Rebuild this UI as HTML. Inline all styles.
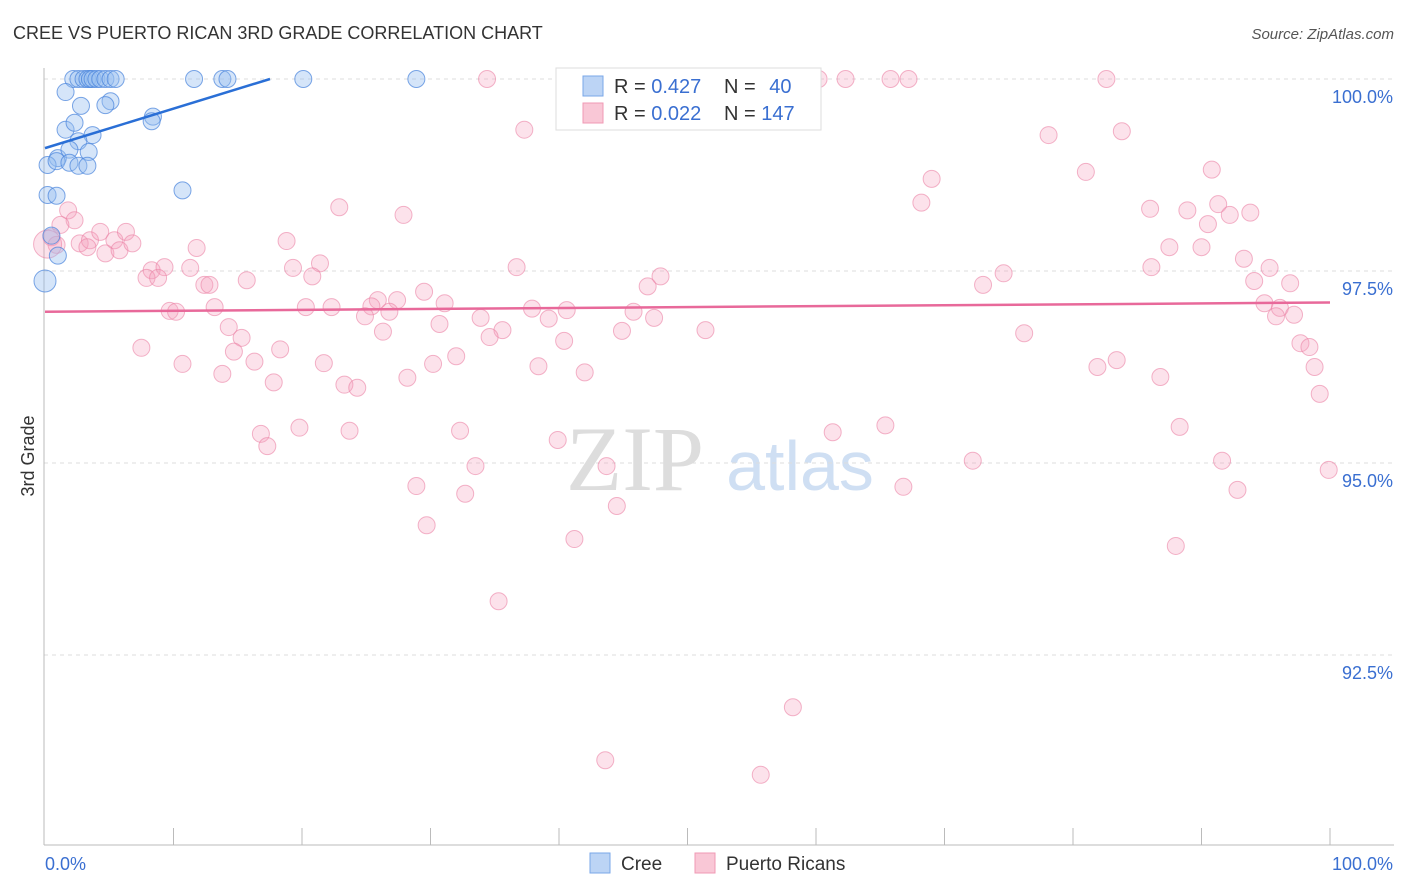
<!DOCTYPE html>
<html><head><meta charset="utf-8"><style>
body{margin:0;background:#fff;font-family:"Liberation Sans",sans-serif;}
svg{display:block}
</style></head><body>
<svg id="chart" width="1406" height="892" viewBox="0 0 1406 892">
<text x="13" y="39" font-size="18" fill="#333">CREE VS PUERTO RICAN 3RD GRADE CORRELATION CHART</text>
<text x="1394" y="39" font-size="15" fill="#555" font-style="italic" text-anchor="end">Source: ZipAtlas.com</text>
<text x="34" y="456" font-size="18" fill="#333" transform="rotate(-90 34 456)" text-anchor="middle">3rd Grade</text>
<g><text x="635" y="490" font-size="92" fill="#ddd" font-family="Liberation Serif" text-anchor="middle">ZIP</text><text x="800" y="490" font-size="70" fill="#cfdff3" text-anchor="middle">atlas</text></g>
<g id="grid"></g><g id="axes"></g><g id="pts"></g><g id="trend"></g>
<g>
<rect x="556" y="68" width="265" height="62" fill="#fff" stroke="#ddd"/>
<rect x="583" y="76" width="20" height="20" fill="#bcd4f5" stroke="#7aa7e8"/>
<rect x="583" y="103" width="20" height="20" fill="#f9c7d6" stroke="#f09ab4"/>
<text x="614" y="93" font-size="20" fill="#333">R = <tspan fill="#3a6fd1">0.427</tspan></text>
<text x="724" y="93" font-size="20" fill="#333">N = <tspan fill="#3a6fd1" dx="8">40</tspan></text>
<text x="614" y="120" font-size="20" fill="#333">R = <tspan fill="#3a6fd1">0.022</tspan></text>
<text x="724" y="120" font-size="20" fill="#333">N = <tspan fill="#3a6fd1">147</tspan></text>
</g>
<g>
<rect x="590" y="853" width="20" height="20" fill="#bcd4f5" stroke="#7aa7e8"/>
<text x="621" y="870" font-size="19" fill="#333">Cree</text>
<rect x="695" y="853" width="20" height="20" fill="#f9c7d6" stroke="#f09ab4"/>
<text x="726" y="870" font-size="19" fill="#333">Puerto Ricans</text>
</g>
</svg>
<script>
const yTicks=[100,97.5,95,92.5];
const yTickLabels=["100.0%","97.5%","95.0%","92.5%"];
const xLabels=["0.0%","100.0%"];
const creeX=[2.2,2.6,3.0,3.3,3.5,3.7,4.0,4.3,4.7,5.1,5.5,11.6,13.8,14.2,20.1,28.9,1.6,2.8,5.1,4.7,8.4,8.3,1.6,2.3,3.7,2.6,1.0,1.9,3.4,0.2,0.9,1.9,2.6,3.3,10.7,0.2,0.9,0.5,1.0,0.0];
const creeY=[100,100,100,100,100,100,100,100,100,100,100,100,100,100,100,100,99.83,99.65,99.71,99.66,99.51,99.45,99.34,99.43,99.27,99.19,98.97,99.08,99.05,98.88,98.93,98.91,98.87,98.87,98.55,98.49,98.48,97.96,97.70,97.37];
const prX=[34.4,48.8,49.2,59.7,60.2,62.3,65.8,67.2,82.6,37.3,78.1,83.8,69.0,81.0,90.8,68.2,22.9,27.9,86.0,88.9,91.3,92.2,93.8,90.5,1.8,2.3,1.2,0.5,0.9,2.7,3.5,4.3,3.3,4.7,5.4,5.8,6.3,6.8,11.8,18.8,87.5,90.0,93.3,8.3,9.3,11.3,19.3,21.4,20.8,36.7,86.1,74.6,95.3,7.9,8.8,12.4,12.8,15.7,94.1,96.9,47.9,46.9,73.0,29.5,25.9,25.4,27.4,31.1,20.3,22.3,9.7,10.2,13.2,24.9,26.8,37.9,40.6,39.2,45.8,47.4,33.9,94.9,96.1,95.8,97.2,14.3,15.3,30.7,26.3,35.6,34.6,44.9,51.4,40.4,76.2,7.5,14.7,18.3,32.0,97.7,98.4,10.7,16.3,21.7,30.2,38.4,42.0,83.4,81.9,98.8,13.8,17.8,23.3,24.3,28.2,86.8,99.2,16.8,19.8,23.7,32.3,39.9,61.3,65.4,88.3,17.3,33.5,43.7,72.2,91.6,99.9,28.9,32.7,66.8,44.5,92.8,29.7,41.2,88.0,35.3,58.2,43.6,55.7,0.2];
const prY=[100,100,100,100,100,100,100,100,100,99.34,99.27,99.32,98.70,98.79,98.82,98.39,98.33,98.23,98.31,98.29,98.37,98.23,98.26,98.11,98.29,98.16,98.10,97.94,97.84,97.86,97.90,98.01,97.81,97.73,97.90,97.77,98.01,97.86,97.80,97.89,97.81,97.81,97.66,97.51,97.55,97.54,97.54,97.60,97.43,97.55,97.55,97.47,97.54,97.41,97.41,97.32,97.32,97.38,97.37,97.34,97.43,97.30,97.32,97.23,97.12,97.04,97.12,97.08,97.03,97.03,96.98,96.97,97.03,96.91,96.97,97.01,96.99,96.88,96.97,96.89,96.89,97.08,97.02,96.91,96.93,96.77,96.63,96.81,96.71,96.73,96.64,96.72,96.73,96.59,96.69,96.50,96.45,96.48,96.39,96.56,96.51,96.29,96.32,96.30,96.29,96.26,96.18,96.34,96.25,96.25,96.16,96.05,96.02,95.98,96.11,96.12,95.90,95.38,95.46,95.42,95.42,95.30,95.40,95.49,95.47,95.22,94.96,94.96,95.03,95.03,94.91,94.70,94.60,94.69,94.44,94.65,94.19,94.01,93.92,93.20,91.82,91.13,90.94,97.85];
const creeTrend=[99.1,0.0514];
const prTrend=[96.97,0.0012];
const NS="http://www.w3.org/2000/svg";
const xs=v=>45+v*12.85;
const ys=v=>79+(100-v)*76.8;
function mk(t,a,p){const e=document.createElementNS(NS,t);for(const k in a)e.setAttribute(k,a[k]);p.appendChild(e);return e;}
const grid=document.getElementById('grid'),axes=document.getElementById('axes'),pts=document.getElementById('pts'),tr=document.getElementById('trend');
yTicks.forEach((v,i)=>{
const l=mk('line',{x1:44,x2:1394,y1:ys(v),y2:ys(v),stroke:'#ddd','stroke-dasharray':'4,4'},grid);


const t=mk('text',{x:1393,y:ys(v)+24,'font-size':18,fill:'#3a6fd1','text-anchor':'end'},axes);
t.textContent=yTickLabels[i];


});
const ya=mk('line',{x1:44,x2:44,y1:68,y2:845,stroke:'#bbb'},axes);


const xa=mk('line',{x1:44,x2:1394,y1:845,y2:845,stroke:'#bbb'},axes);


for(let i=1;i<=10;i++){const tk=mk('line',{x1:xs(i*10),x2:xs(i*10),y1:828,y2:845,stroke:'#bbb'},axes);

}
const xl0=mk('text',{x:45,y:870,'font-size':18,fill:'#3a6fd1'},axes);xl0.textContent=xLabels[0];


const xl1=mk('text',{x:1393,y:870,'font-size':18,fill:'#3a6fd1','text-anchor':'end'},axes);xl1.textContent=xLabels[1];


prX.forEach((x,i)=>{const c=mk('circle',{cx:xs(x),cy:ys(prY[i]),r:i===prX.length-1?14:8.5,fill:'rgba(245,160,190,0.3)',stroke:'rgba(235,130,165,0.6)','stroke-width':1},pts);

});
creeX.forEach((x,i)=>{const c=mk('circle',{cx:xs(x),cy:ys(creeY[i]),r:i===creeX.length-1?11:8.5,fill:'rgba(150,190,240,0.4)',stroke:'rgba(70,130,220,0.7)','stroke-width':1},pts);

});
const cx2=(100-creeTrend[0])/creeTrend[1];
const l1=mk('line',{x1:xs(0),y1:ys(creeTrend[0]),x2:xs(cx2),y2:ys(100),stroke:'#2a6fd6','stroke-width':2.5},tr);


const l2=mk('line',{x1:xs(0),y1:ys(prTrend[0]),x2:xs(100),y2:ys(prTrend[0]+prTrend[1]*100),stroke:'#e8699a','stroke-width':2.5},tr);


</script>
</body></html>
